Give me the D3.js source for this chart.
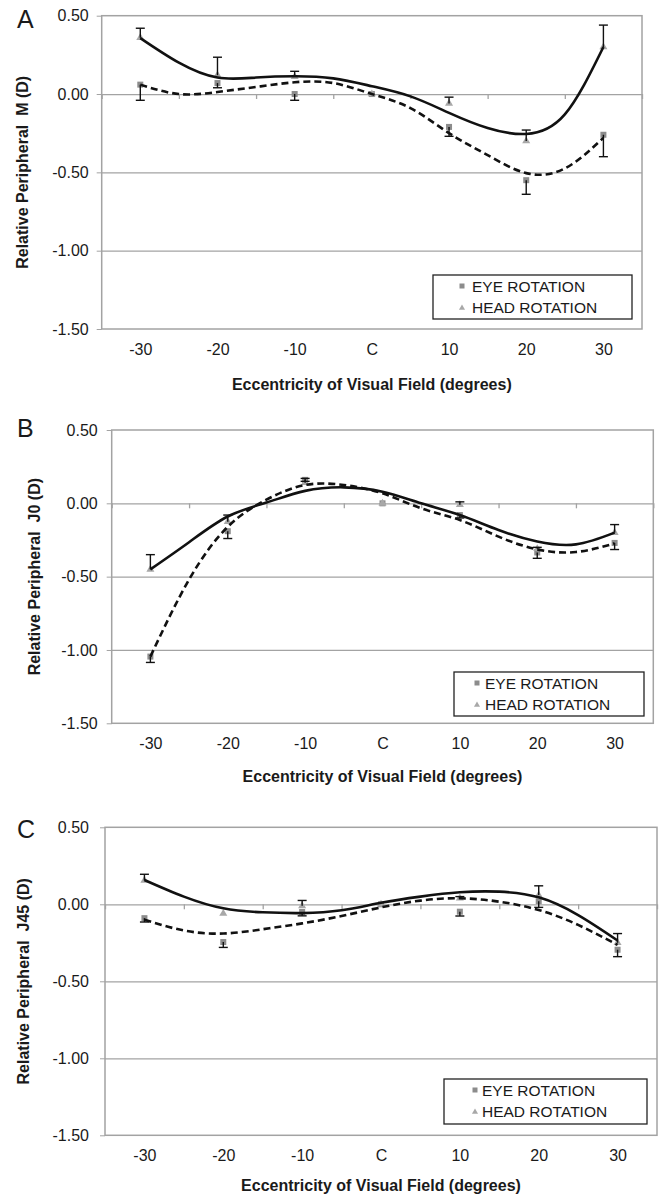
<!DOCTYPE html>
<html>
<head>
<meta charset="utf-8">
<script src="https://cdnjs.cloudflare.com/ajax/libs/d3/7.8.5/d3.min.js"></script>
<style>
body{margin:0;background:#fff;}
text{font-family:"Liberation Sans",Arial,sans-serif;}
</style>
</head>
<body>
<script>
var categories = [-30,-20,-10,0,10,20,30];
var tickLabels = ["-30","-20","-10","C","10","20","30"];
var boundaries = [-35,-25,-15,-5,5,15,25,35];
var yTicks = [0.5,0,-0.5,-1,-1.5];
var trendX = [-30,-25,-20,-15,-10,-5,0,5,10,15,20,25,30];
var legendLabels = ["EYE ROTATION","HEAD ROTATION"];

// A : M
var mEye = [0.06,0.07,0.00,0.00,-0.21,-0.55,-0.26];
var mEyeErr = [0.10,0.03,0.04,0,0.06,0.09,0.14];
var mHead = [0.36,0.12,0.11,0.00,-0.06,-0.30,0.30];
var mHeadErr = [0.06,0.115,0.035,0,0.04,0.07,0.14];
var mEyeTrend = [0.06,0.00,0.013,0.045,0.075,0.07,0.0,-0.09,-0.25,-0.39,-0.505,-0.475,-0.28];
var mHeadTrend = [0.357,0.20,0.105,0.105,0.113,0.10,0.05,-0.015,-0.12,-0.217,-0.255,-0.13,0.30];

// B : J0
var j0Eye = [-1.045,-0.19,0.16,0.00,-0.08,-0.335,-0.27];
var j0EyeErr = [0.04,0.05,0.01,0,0.02,0.04,0.045];
var j0Head = [-0.45,-0.125,0.14,0.00,-0.01,-0.31,-0.20];
var j0HeadErr = [0.10,0.045,0.03,0,0.02,0.01,0.055];
var j0EyeTrend = [-1.045,-0.52,-0.16,0.025,0.125,0.125,0.068,-0.034,-0.114,-0.227,-0.314,-0.332,-0.273];
var j0HeadTrend = [-0.45,-0.265,-0.09,0.005,0.085,0.109,0.079,0.00,-0.08,-0.182,-0.26,-0.28,-0.20];

// C : J45
var j45Eye = [-0.09,-0.245,-0.05,0.00,-0.048,0.02,-0.295];
var j45EyeErr = [0.025,0.035,0.025,0,0.028,0.04,0.045];
var j45Head = [0.155,-0.06,-0.01,0.00,0.04,0.06,-0.25];
var j45HeadErr = [0.04,0,0.035,0,0.01,0.06,0.06];
var j45EyeTrend = [-0.10,-0.17,-0.19,-0.162,-0.124,-0.076,-0.02,0.024,0.039,0.017,-0.037,-0.134,-0.264];
var j45HeadTrend = [0.158,0.05,-0.026,-0.052,-0.057,-0.039,0.01,0.05,0.078,0.082,0.045,-0.07,-0.235];

var panels = [
	{letter:"A", ytitle:"Relative Peripheral\u00a0 M (D)",
	 eye:mEye, eyeErr:mEyeErr, head:mHead, headErr:mHeadErr, eyeTrend:mEyeTrend, headTrend:mHeadTrend,
	 box:{l:101.7,r:642,t:15.7,b:329}, letterY:28, titleX:22, titleY:390, gap:13,
	 leg:{x:433,y:275,w:199,h:44,mx:462,tx:472}},
	{letter:"B", ytitle:"Relative Peripheral\u00a0 J0 (D)",
	 eye:j0Eye, eyeErr:j0EyeErr, head:j0Head, headErr:j0HeadErr, eyeTrend:j0EyeTrend, headTrend:j0HeadTrend,
	 box:{l:111.7,r:653.3,t:430,b:723.3}, letterY:437, titleX:34, titleY:782, gap:14,
	 leg:{x:454,y:672,w:190,h:44,mx:477,tx:485}},
	{letter:"C", ytitle:"Relative Peripheral\u00a0 J45 (D)",
	 eye:j45Eye, eyeErr:j45EyeErr, head:j45Head, headErr:j45HeadErr, eyeTrend:j45EyeTrend, headTrend:j45HeadTrend,
	 box:{l:105,r:657,t:827.3,b:1135.3}, letterY:838, titleX:23, titleY:1191, gap:16,
	 leg:{x:444,y:1079,w:203,h:45,mx:475,tx:482}}
];

var svg = d3.select("body").append("svg")
	.attr("width",661)
	.attr("height",1197)
	.style("display","block");

var gridColor = "#a3a3a3";
var eyeColor = "#8c8c8c";
var headColor = "#a8a8a8";

var drawPanel = function(p){
	var b = p.box;
	var g = svg.append("g");
	var x = d3.scaleLinear().domain([-35,35]).range([b.l,b.r]);
	var y = d3.scaleLinear().domain([-1.5,0.5]).range([b.b,b.t]);

	// gridlines
	g.append("g")
		.attr("transform","translate("+b.l+",0)")
		.attr("color",gridColor)
		.call(d3.axisLeft(y).tickValues([0,-0.5,-1]).tickSize(-(b.r-b.l)).tickFormat(""))
		.call(function(s){ s.select(".domain").remove(); s.selectAll("line").attr("stroke-width",1.3); });

	// plot frame
	g.append("rect")
		.attr("x",b.l).attr("y",b.t)
		.attr("width",b.r-b.l).attr("height",b.b-b.t)
		.attr("fill","none")
		.attr("stroke",gridColor)
		.attr("stroke-width",1.5);

	// y axis
	g.append("g")
		.attr("transform","translate("+b.l+",0)")
		.attr("color",gridColor)
		.call(d3.axisLeft(y).tickValues(yTicks).tickSize(5).tickPadding(p.gap-5)
			.tickFormat(function(d){ return d.toFixed(2); }))
		.call(function(s){
			s.attr("font-size",16);
			s.select(".domain").remove();
			s.selectAll("text").attr("fill","#1a1a1a");
		});

	// category ticks sit on the zero line
	g.append("g")
		.attr("transform","translate(0,"+y(0)+")")
		.attr("color",gridColor)
		.call(d3.axisBottom(x).tickValues(boundaries).tickSize(5).tickFormat(""))
		.call(function(s){ s.select(".domain").remove(); s.selectAll("line").attr("stroke-width",1.3); });

	// category labels at the bottom
	g.append("g")
		.attr("transform","translate(0,"+b.b+")")
		.call(d3.axisBottom(x).tickValues(categories).tickSize(0).tickPadding(14.6)
			.tickFormat(function(d,i){ return tickLabels[i]; }))
		.call(function(s){
			s.attr("font-size",16);
			s.select(".domain").remove();
			s.selectAll("text").attr("fill","#1a1a1a");
		});

	// titles
	g.append("text")
		.attr("x",(b.l+b.r)/2).attr("y",p.titleY)
		.attr("text-anchor","middle")
		.attr("font-size",16).attr("font-weight","bold").attr("fill","#1a1a1a")
		.text("Eccentricity of Visual Field  (degrees)");
	g.append("text")
		.attr("transform","translate("+p.titleX+","+((b.t+b.b)/2)+") rotate(-90)")
		.attr("dy","0.35em")
		.attr("text-anchor","middle")
		.attr("font-size",16).attr("font-weight","bold").attr("fill","#1a1a1a")
		.text(p.ytitle);
	g.append("text")
		.attr("x",17).attr("y",p.letterY)
		.attr("font-size",25).attr("fill","#1a1a1a")
		.text(p.letter);

	// markers
	g.selectAll("rect.eye").data(p.eye).enter().append("rect")
		.attr("x",function(d,i){ return x(categories[i])-3; })
		.attr("y",function(d){ return y(d)-3; })
		.attr("width",6).attr("height",6)
		.attr("fill",eyeColor);
	g.selectAll("path.head").data(p.head).enter().append("path")
		.attr("d",d3.symbol(d3.symbolTriangle,28))
		.attr("transform",function(d,i){ return "translate("+x(categories[i])+","+y(d)+")"; })
		.attr("fill",headColor);

	// error bars: head drawn up, eye drawn down
	var bars = [];
	categories.forEach(function(c,i){
		if(p.headErr[i] > 0) bars.push({c:c, v:p.head[i], e:p.head[i]+p.headErr[i]});
		if(p.eyeErr[i] > 0) bars.push({c:c, v:p.eye[i], e:p.eye[i]-p.eyeErr[i]});
	});
	var eb = g.selectAll("g.err").data(bars).enter().append("g")
		.attr("stroke","#111").attr("stroke-width",1.4);
	eb.append("line")
		.attr("x1",function(d){ return x(d.c); }).attr("x2",function(d){ return x(d.c); })
		.attr("y1",function(d){ return y(d.v); }).attr("y2",function(d){ return y(d.e); });
	eb.append("line")
		.attr("x1",function(d){ return x(d.c)-4.5; }).attr("x2",function(d){ return x(d.c)+4.5; })
		.attr("y1",function(d){ return y(d.e); }).attr("y2",function(d){ return y(d.e); });

	// trendlines
	var line = d3.line()
		.x(function(d,i){ return x(trendX[i]); })
		.y(function(d){ return y(d); })
		.curve(d3.curveNatural);
	g.append("path")
		.attr("d",line(p.eyeTrend))
		.attr("fill","none").attr("stroke","#111").attr("stroke-width",2.6)
		.attr("stroke-dasharray","7,4");
	g.append("path")
		.attr("d",line(p.headTrend))
		.attr("fill","none").attr("stroke","#111").attr("stroke-width",2.6);

	// legend
	var L = p.leg;
	var lg = g.append("g");
	lg.append("rect")
		.attr("x",L.x).attr("y",L.y).attr("width",L.w).attr("height",L.h)
		.attr("fill","#fff").attr("stroke","#222").attr("stroke-width",1.3);
	lg.append("rect")
		.attr("x",L.mx-2.5).attr("y",L.y+17-8.5).attr("width",5).attr("height",5)
		.attr("fill",eyeColor);
	lg.append("path")
		.attr("d",d3.symbol(d3.symbolTriangle,16))
		.attr("transform","translate("+L.mx+","+(L.y+38-5)+")")
		.attr("fill",headColor);
	lg.selectAll("text").data(legendLabels).enter().append("text")
		.attr("x",L.tx)
		.attr("y",function(d,i){ return L.y+(i===0?17:38); })
		.attr("font-size",15.5).attr("fill","#1a1a1a")
		.text(function(d){ return d; });
};

panels.forEach(drawPanel);
</script>
</body>
</html>
